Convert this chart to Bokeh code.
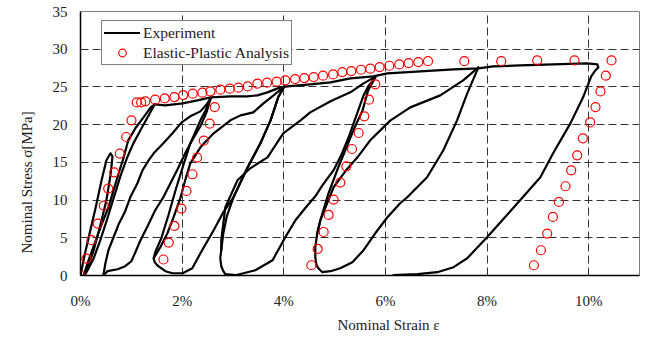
from bokeh.plotting import figure
from bokeh.models import Range1d, FixedTicker, Legend, LegendItem, Title
from bokeh.embed import file_html
from bokeh.resources import INLINE

# ---------------- data (strain in %, stress in MPa) ----------------
x_ticks = [0, 2, 4, 6, 8, 10]
x_tick_labels = ["0%", "2%", "4%", "6%", "8%", "10%"]
y_ticks = [0, 5, 10, 15, 20, 25, 30, 35]

# Experiment: first small loop
exp1_strain = [0.00, 0.08, 0.18, 0.30, 0.41, 0.51, 0.59, 0.63, 0.59, 0.51, 0.39, 0.26, 0.14, 0.06]
exp1_stress = [0.0, 2.69, 5.60, 9.05, 12.49, 15.27, 16.20, 15.80, 13.28, 9.97, 6.66, 3.35, 0.97, 0.0]

# second loop (up to about 1.5 %)
exp2_strain = [0.06, 0.16, 0.28, 0.41, 0.55, 0.65, 0.75, 0.85, 0.94, 1.08, 1.24, 1.38, 1.46,
               1.32, 1.18, 1.04, 0.92, 0.79, 0.67, 0.53, 0.39, 0.26, 0.14, 0.08]
exp2_stress = [0.0, 2.03, 4.28, 6.66, 9.05, 11.30, 13.55, 15.67, 17.92, 19.52, 20.97, 22.29, 22.69,
               20.97, 19.25, 17.52, 15.67, 13.28, 10.64, 7.59, 4.68, 2.29, 0.70, 0.0]

# loading envelope and final unloading
env_strain = [1.46, 1.67, 2.01, 2.30, 2.56, 2.95, 3.28, 3.48, 3.68, 3.93, 4.07, 4.52, 4.92, 5.31,
              5.76, 6.04, 6.69, 7.34, 7.83, 8.12, 8.65, 9.30, 9.97, 10.17, 10.19, 10.13, 10.05,
              9.89, 9.64, 9.30, 9.05, 8.65, 8.00, 7.61, 7.34, 7.02, 6.63, 6.16]
env_stress = [22.69, 22.56, 22.82, 23.22, 23.62, 23.75, 23.75, 23.88, 24.28, 24.94, 25.07, 25.34,
              25.60, 26.13, 26.40, 26.79, 27.06, 27.32, 27.46, 27.72, 27.85, 27.99, 28.12, 27.99,
              27.59, 27.19, 26.40, 23.62, 20.17, 16.20, 13.02, 9.97, 5.07, 2.29, 1.10, 0.44, 0.17, 0.04]

# reloading from 0.45 % (upper and lower branch)
exp3_strain = [0.45, 0.49, 0.55, 0.65, 0.75, 0.87, 0.98, 1.12, 1.22, 1.34, 1.44, 1.63, 1.81,
               1.99, 2.16, 2.36, 2.48, 2.56]
exp3_stress = [0.0, 1.63, 3.35, 5.07, 6.79, 8.38, 10.37, 12.23, 13.95, 15.27, 16.20, 17.52,
               18.85, 20.30, 21.10, 21.76, 22.69, 23.48]
exp4_strain = [0.45, 0.53, 0.73, 0.88, 1.00, 1.08, 1.18, 1.32, 1.47, 1.63, 1.77, 1.91, 2.08,
               2.22, 2.36, 2.48, 2.56]
exp4_stress = [0.0, 0.57, 0.83, 1.23, 1.89, 3.08, 4.68, 6.53, 8.65, 10.37, 12.23, 14.08, 16.46,
               18.19, 19.78, 21.63, 23.48]

# unloading from 2.56 %, reloading to 4 %
exp5_strain = [2.56, 2.46, 2.36, 2.16, 2.01, 1.87, 1.73, 1.59, 1.47, 1.44, 1.46, 1.53, 1.67,
               1.81, 2.01, 2.20, 2.36, 2.62, 2.81, 3.01, 3.28, 3.54, 3.74, 3.89, 4.01]
exp5_stress = [23.48, 21.89, 20.57, 17.52, 14.34, 11.30, 7.99, 4.94, 3.08, 2.29, 1.76, 1.23, 0.57,
               0.30, 0.30, 0.97, 2.95, 6.00, 8.38, 10.37, 14.21, 17.52, 20.57, 23.62, 25.07]
exp6_strain = [1.44, 1.57, 1.71, 1.83, 1.97, 2.06, 2.16, 2.36, 2.62, 2.95, 3.15, 3.40, 3.60,
               3.80, 4.01]
exp6_stress = [2.29, 3.75, 5.60, 7.72, 10.37, 12.62, 14.87, 16.99, 18.85, 20.57, 21.23, 21.63,
               22.82, 23.88, 25.07]

# unloading from 4 %, reloading to 5.8 %
exp7_strain = [4.01, 3.89, 3.74, 3.54, 3.28, 3.01, 2.88, 2.81, 2.77, 2.75, 2.77, 2.81, 2.85,
               3.05, 3.44, 3.78, 4.03, 4.23, 4.42, 4.62, 4.76, 4.98, 5.13, 5.29, 5.43, 5.57,
               5.66, 5.80]
exp7_stress = [25.07, 23.62, 20.57, 17.52, 14.21, 10.37, 7.86, 5.60, 3.35, 2.29, 1.23, 0.57, 0.17,
               0.04, 0.70, 2.03, 5.07, 7.32, 8.91, 10.50, 11.96, 13.95, 15.93, 18.58, 21.23, 23.88,
               25.07, 26.27]
exp8_strain = [2.77, 2.77, 2.85, 3.09, 3.34, 3.68, 3.99, 4.33, 4.52, 4.92, 5.31, 5.57, 5.78]
exp8_stress = [3.35, 4.68, 9.05, 12.62, 14.21, 15.67, 18.85, 20.57, 21.63, 23.09, 24.28, 25.47, 26.27]

# unloading from 5.8 %, reloading to 7.8 %
exp9_strain = [5.80, 5.66, 5.55, 5.37, 5.21, 5.05, 4.88, 4.72, 4.66, 4.62, 4.62, 4.64, 4.68,
               4.76, 4.92, 5.11, 5.35, 5.57, 5.80, 6.04, 6.29, 6.43, 6.82, 7.14, 7.41, 7.61, 7.83]
exp9_stress = [26.27, 24.54, 21.89, 19.25, 16.60, 13.95, 10.90, 7.32, 5.60, 3.75, 2.42, 1.50, 0.97,
               0.44, 0.57, 0.97, 1.76, 3.35, 5.60, 7.72, 9.58, 10.37, 13.02, 16.60, 20.57, 24.15, 27.59]
exp10_strain = [4.66, 4.72, 4.98, 5.21, 5.45, 5.70, 6.10, 6.49, 7.08, 7.53, 7.83]
exp10_stress = [5.60, 7.32, 11.70, 13.81, 15.67, 17.92, 20.57, 22.29, 23.88, 25.87, 27.59]

# Elastic-plastic analysis
ana_strain = [0.000, 0.118, 0.216, 0.340, 0.458, 0.545, 0.663, 0.773, 0.899, 1.003, 1.107, 1.194,
              1.278, 1.469, 1.658, 1.849, 2.020, 2.208, 2.399, 2.557, 2.753, 2.936, 3.107, 3.290,
              3.481, 3.672, 3.860, 4.031, 4.222, 4.405, 4.588, 4.773, 4.970, 5.152, 5.329, 5.520,
              5.703, 5.886, 6.077, 6.273, 6.456, 6.647, 6.838, 7.552, 8.279, 8.987, 9.721, 10.449,
              # unloading 1
              2.641, 2.543, 2.425, 2.295, 2.203, 2.085, 1.986, 1.849, 1.736, 1.632,
              # unloading 2
              5.801, 5.677, 5.585, 5.473, 5.343, 5.231, 5.113, 4.981, 4.883, 4.785, 4.667, 4.543,
              # unloading 3
              10.338, 10.232, 10.134, 10.029, 9.886, 9.774, 9.656, 9.544, 9.414, 9.296, 9.184,
              9.060, 8.922]
ana_stress = [0.00, 2.25, 4.68, 6.89, 9.27, 11.52, 13.68, 16.16, 18.36, 20.57, 22.95, 22.95,
              23.09, 23.31, 23.48, 23.66, 23.92, 24.11, 24.24, 24.41, 24.64, 24.77, 24.90, 25.07,
              25.43, 25.56, 25.70, 25.87, 26.04, 26.17, 26.30, 26.49, 26.66, 26.97, 27.10, 27.28,
              27.42, 27.63, 27.81, 27.99, 28.16, 28.29, 28.42, 28.42, 28.42, 28.52, 28.52, 28.52,
              22.33, 20.13, 17.88, 15.63, 13.42, 11.21, 8.87, 6.57, 4.37, 2.12,
              25.34, 23.31, 21.10, 18.89, 16.77, 14.48, 12.32, 10.07, 8.03, 5.77, 3.52, 1.36,
              26.49, 24.41, 22.33, 20.30, 18.19, 15.93, 13.95, 11.83, 9.75, 7.76, 5.56, 3.35, 1.36]

exp_xs = [exp1_strain, exp2_strain, env_strain, exp3_strain, exp4_strain, exp5_strain,
          exp6_strain, exp7_strain, exp8_strain, exp9_strain, exp10_strain]
exp_ys = [exp1_stress, exp2_stress, env_stress, exp3_stress, exp4_stress, exp5_stress,
          exp6_stress, exp7_stress, exp8_stress, exp9_stress, exp10_stress]

# ---------------- figure ----------------
FONT = "Times New Roman, Liberation Serif, serif"

p = figure(width=648, height=345, output_backend="svg", toolbar_location=None,
           x_range=Range1d(0, 11), y_range=Range1d(0, 35),
           min_border_left=80, min_border_right=9, min_border_top=11, min_border_bottom=70)
p.background_fill_color = "white"
p.border_fill_color = "white"
p.outline_line_color = "#808080"
p.outline_line_width = 1

r_exp = p.multi_line(xs=exp_xs, ys=exp_ys, line_color="black", line_width=2.2,
                     line_join="round", line_cap="round")
r_ana = p.scatter(ana_strain, ana_stress, marker="circle", size=9, fill_color=None,
                  line_color="#ff0000", line_width=1.2)

p.xaxis.ticker = FixedTicker(ticks=x_ticks)
p.xaxis.major_label_overrides = {t: l for t, l in zip(x_ticks, x_tick_labels)}
p.yaxis.ticker = FixedTicker(ticks=y_ticks)
for ax in (p.xaxis[0], p.yaxis[0]):
    ax.major_label_text_font = FONT
    ax.major_label_text_font_size = "15px"
    ax.major_label_text_color = "#222222"
    ax.major_tick_line_color = None
    ax.minor_tick_line_color = None
    ax.major_tick_out = 0
    ax.major_tick_in = 0
    ax.minor_tick_out = 0
    ax.axis_line_color = "black"
    ax.axis_line_width = 1.5
p.xaxis.major_label_standoff = 17
p.yaxis.major_label_standoff = 13

p.grid.grid_line_color = "#333333"
p.grid.grid_line_dash = "8 4"
p.grid.grid_line_width = 1

legend = Legend(items=[LegendItem(label="Experiment", renderers=[r_exp]),
                       LegendItem(label="Elastic-Plastic Analysis", renderers=[r_ana])],
                location=(21, 210))
legend.border_line_color = "black"
legend.border_line_width = 1
legend.background_fill_color = "white"
legend.background_fill_alpha = 1
legend.label_text_font = FONT
legend.label_text_font_size = "15.5px"
legend.label_text_color = "#222222"
legend.glyph_width = 36
legend.glyph_height = 19
legend.label_height = 19
legend.spacing = 1
legend.padding = 2
legend.margin = 0
legend.label_standoff = 3
p.add_layout(legend)

xlab = Title(text="Nominal Strain ε", align="left", offset=257, standoff=7,
             text_font=FONT, text_font_size="15px", text_font_style="normal",
             text_color="#222222")
p.add_layout(xlab, "below")
ylab = Title(text="Nominal Stress σ[MPa]", align="left", offset=22, standoff=30,
             text_font=FONT, text_font_size="15px", text_font_style="normal",
             text_color="#222222")
p.add_layout(ylab, "left")

open("out.html", "w").write(file_html(p, INLINE))
